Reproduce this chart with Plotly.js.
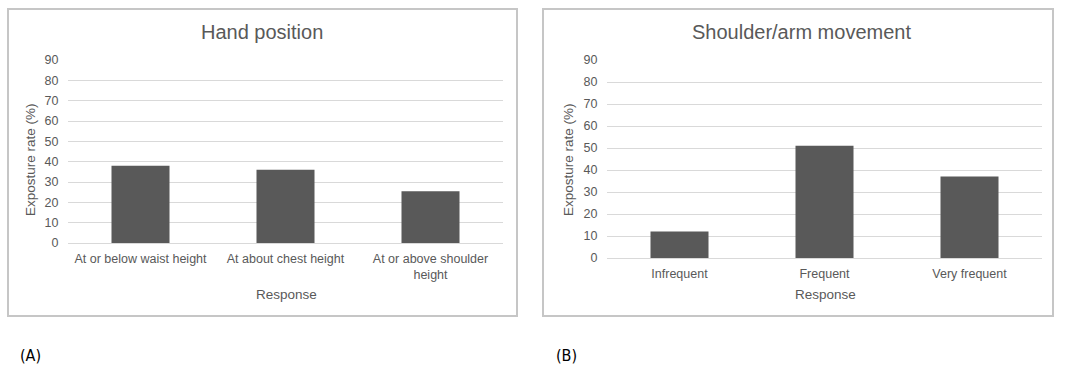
<!DOCTYPE html>
<html>
<head>
<meta charset="utf-8">
<script src="https://cdn.plot.ly/plotly-3.0.1.min.js"></script>
<style>html,body{margin:0;padding:0;background:#fff;}#chart{width:1065px;height:382px;}</style>
</head>
<body>
<div id="chart"></div>
<script>
// ---- data ----
const handCategories = ["At or below waist height", "At about chest height", "At or above shoulder<br>height"];
const handValues = [38, 36, 25.5];
const shoulderCategories = ["Infrequent", "Frequent", "Very frequent"];
const shoulderValues = [12, 51, 37];
const titleA = "Hand position";
const titleB = "Shoulder/arm movement";
const yTitle = "Exposture rate (%)";
const xTitle = "Response";
const panelLabels = ["(A)", "(B)"];

const W = 1065, H = 382;
const px = x => x / W;
const py = y => 1 - y / H;
const txt = "#595959";
const font = "Liberation Sans, Arial, sans-serif";

const traces = [
  {type: "bar", x: handCategories, y: handValues, xaxis: "x", yaxis: "y",
   marker: {color: "#595959"}, hoverinfo: "x+y"},
  {type: "bar", x: shoulderCategories, y: shoulderValues, xaxis: "x2", yaxis: "y2",
   marker: {color: "#595959"}, hoverinfo: "x+y"}
];

const yax = (domain) => ({
  domain: domain, range: [0, 90], dtick: 10, tick0: 0, showgrid: true, gridcolor: "#d9d9d9", gridwidth: 1,
  zeroline: false, showline: false, ticks: "outside", ticklen: 6, tickcolor: "rgba(0,0,0,0)",
  tickfont: {family: font, size: 12.5, color: txt}, fixedrange: true
});
const xax = (domain, anchor) => ({
  domain: domain, anchor: anchor, showgrid: false, zeroline: false, showline: true, linecolor: "#d9d9d9", linewidth: 1,
  ticks: "outside", ticklen: 4, tickcolor: "rgba(0,0,0,0)",
  tickfont: {family: font, size: 12.5, color: txt}, fixedrange: true
});

const ann = (text, x, y, size, extra) => Object.assign({
  text: text, xref: "paper", yref: "paper", x: px(x), y: py(y), showarrow: false,
  xanchor: "center", yanchor: "middle", font: {family: font, size: size, color: txt}
}, extra || {});

const labelFont = {family: "Liberation Sans Narrow, DejaVu Sans Condensed, sans-serif", size: 16, color: "#000"};

const layout = {
  width: W, height: H, margin: {l: 0, r: 0, t: 0, b: 0},
  paper_bgcolor: "#fff", plot_bgcolor: "#fff", showlegend: false, bargap: 0.6,
  xaxis: xax([px(68), px(503)], "y"),
  yaxis: yax([py(243), py(60)]),
  xaxis2: xax([px(607), px(1042)], "y2"),
  yaxis2: Object.assign(yax([py(258), py(60)]), {anchor: "x2"}),
  shapes: [
    {type: "rect", xref: "paper", yref: "paper", x0: px(8), x1: px(517), y0: py(316), y1: py(9),
     line: {color: "#c6c6c6", width: 2}, layer: "below"},
    {type: "rect", xref: "paper", yref: "paper", x0: px(543), x1: px(1053), y0: py(316), y1: py(9),
     line: {color: "#c6c6c6", width: 2}, layer: "below"}
  ],
  annotations: [
    ann(titleA, 262, 32, 20),
    ann(titleB, 801, 32, 20),
    ann(yTitle, 30, 160, 13.5, {textangle: -90}),
    ann(yTitle, 568, 160, 13.5, {textangle: -90}),
    ann(xTitle, 286, 294, 13.5),
    ann(xTitle, 825, 294, 13.5),
    ann(panelLabels[0], 30, 355, 16, {font: labelFont}),
    ann(panelLabels[1], 566, 355, 16, {font: labelFont})
  ]
};

Plotly.newPlot("chart", traces, layout, {displayModeBar: false, staticPlot: true});
</script>
</body>
</html>
